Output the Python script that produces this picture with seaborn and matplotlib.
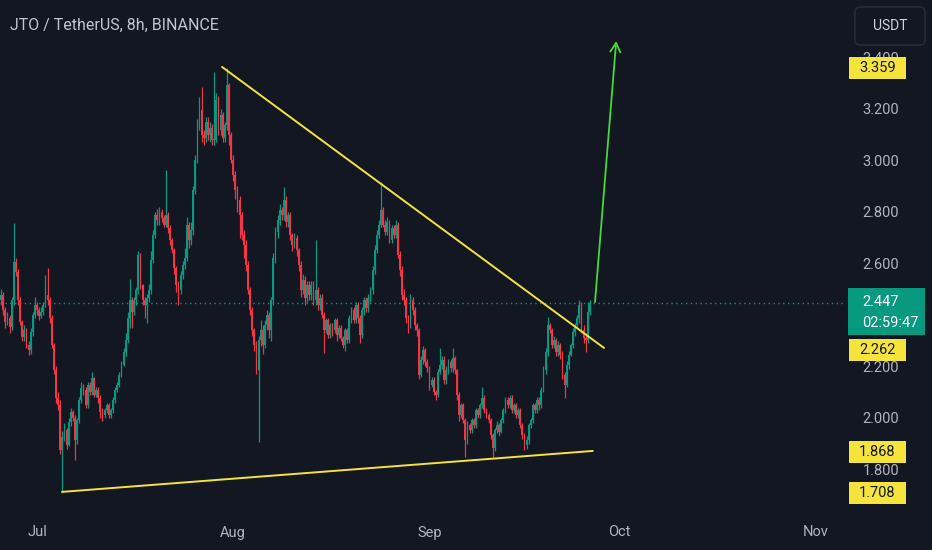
import numpy as np
import pandas as pd
import matplotlib
matplotlib.use("Agg")
import matplotlib.pyplot as plt
import matplotlib.dates as mdates
import matplotlib.transforms as mtransforms
from matplotlib.patches import Rectangle, FancyBboxPatch
import seaborn as sns

# --- Data: JTO/USDT 8h candles ---
START = "2024-06-25 08:00"
OPEN0 = 2.46

closes = [
    2.478, 2.419, 2.373, 2.388, 2.353, 2.458, 2.606, 2.567, 2.458, 2.373,
    2.315, 2.342, 2.283, 2.264, 2.334, 2.400, 2.439, 2.419, 2.396, 2.412,
    2.439, 2.478, 2.458, 2.388, 2.283, 2.186, 2.078, 2.050, 1.876, 1.926,
    1.953, 1.895, 1.984, 2.023, 2.000, 1.915, 1.992, 2.070, 2.117, 2.109,
    2.050, 2.128, 2.101, 2.155, 2.089, 2.109, 2.078, 2.023, 2.012, 2.031,
    2.050, 2.012, 2.031, 2.070, 2.109, 2.128, 2.167, 2.206, 2.256, 2.303,
    2.388, 2.458, 2.412, 2.458, 2.497, 2.633, 2.517, 2.458, 2.439, 2.466,
    2.497, 2.614, 2.711, 2.788, 2.769, 2.800, 2.777, 2.750, 2.788, 2.738,
    2.691, 2.652, 2.583, 2.517, 2.497, 2.555, 2.594, 2.621, 2.750, 2.691,
    2.730, 2.885, 3.002, 3.138, 3.196, 3.099, 3.087, 3.150, 3.099, 3.126,
    3.080, 3.080, 3.235, 3.118, 3.176, 3.087, 3.138, 3.293, 3.099, 3.002,
    2.944, 2.885, 2.847, 2.788, 2.711, 2.672, 2.594, 2.497, 2.419, 2.342,
    2.283, 2.186, 2.303, 2.342, 2.283, 2.361, 2.400, 2.342, 2.458, 2.621,
    2.722, 2.769, 2.808, 2.788, 2.847, 2.761, 2.788, 2.711, 2.672, 2.699,
    2.652, 2.594, 2.497, 2.536, 2.466, 2.517, 2.478, 2.517, 2.458, 2.497,
    2.439, 2.466, 2.400, 2.342, 2.381, 2.322, 2.361, 2.342, 2.381, 2.322,
    2.350, 2.311, 2.283, 2.342, 2.303, 2.388, 2.419, 2.381, 2.439, 2.388,
    2.322, 2.419, 2.458, 2.427, 2.466, 2.497, 2.575, 2.652, 2.711, 2.750,
    2.808, 2.750, 2.722, 2.761, 2.691, 2.738, 2.711, 2.750, 2.633, 2.575,
    2.478, 2.458, 2.388, 2.361, 2.458, 2.419, 2.361, 2.342, 2.167, 2.225,
    2.264, 2.217, 2.194, 2.128, 2.147, 2.101, 2.089, 2.179, 2.206, 2.225,
    2.147, 2.186, 2.217, 2.194, 2.233, 2.186, 2.089, 2.012, 2.050, 1.992,
    1.915, 1.973, 1.953, 1.992, 1.973, 2.031, 2.012, 2.050, 2.078, 2.031,
    2.012, 1.992, 1.934, 1.883, 1.953, 1.973, 1.946, 1.992, 2.031, 2.070,
    2.050, 2.078, 2.031, 2.050, 2.012, 2.031, 1.973, 1.934, 1.895, 1.915,
    1.973, 1.992, 2.050, 2.031, 2.070, 2.050, 2.109, 2.186, 2.256, 2.361,
    2.342, 2.283, 2.303, 2.256, 2.283, 2.245, 2.167, 2.128, 2.206, 2.245,
    2.283, 2.334, 2.361, 2.388, 2.439, 2.342, 2.311, 2.303, 2.412, 2.447,
]

highs = [
    2.50, 2.49, 2.43, 2.41, 2.40, 2.47, 2.757, 2.62, 2.58, 2.47,
    2.38, 2.36, 2.35, 2.30, 2.35, 2.41, 2.47, 2.45, 2.43, 2.43,
    2.45, 2.555, 2.583, 2.47, 2.40, 2.29, 2.20, 2.10, 2.07, 1.95,
    1.98, 1.96, 2.00, 2.04, 2.03, 2.01, 2.00, 2.08, 2.14, 2.13,
    2.12, 2.14, 2.14, 2.18, 2.16, 2.12, 2.12, 2.09, 2.04, 2.04,
    2.06, 2.06, 2.04, 2.08, 2.12, 2.14, 2.18, 2.22, 2.27, 2.33,
    2.41, 2.54, 2.47, 2.47, 2.51, 2.65, 2.64, 2.52, 2.47, 2.48,
    2.52, 2.65, 2.73, 2.80, 2.81, 2.82, 2.81, 2.79, 2.963, 2.80,
    2.75, 2.70, 2.66, 2.59, 2.53, 2.57, 2.61, 2.66, 2.78, 2.76,
    2.76, 2.90, 3.02, 3.16, 3.247, 3.285, 3.12, 3.17, 3.17, 3.15,
    3.14, 3.344, 3.26, 3.25, 3.20, 3.19, 3.15, 3.359, 3.30, 3.11,
    3.02, 2.96, 2.90, 2.86, 2.80, 2.73, 2.69, 2.61, 2.51, 2.43,
    2.35, 2.30, 2.32, 2.38, 2.36, 2.38, 2.42, 2.41, 2.47, 2.64,
    2.74, 2.79, 2.83, 2.82, 2.897, 2.86, 2.80, 2.80, 2.72, 2.72,
    2.71, 2.66, 2.61, 2.56, 2.55, 2.53, 2.53, 2.53, 2.53, 2.691,
    2.51, 2.48, 2.48, 2.41, 2.39, 2.39, 2.37, 2.37, 2.39, 2.39,
    2.36, 2.36, 2.32, 2.35, 2.35, 2.40, 2.43, 2.43, 2.45, 2.45,
    2.40, 2.43, 2.47, 2.47, 2.48, 2.51, 2.59, 2.67, 2.73, 2.77,
    2.917, 2.82, 2.77, 2.78, 2.77, 2.75, 2.75, 2.77, 2.76, 2.65,
    2.59, 2.50, 2.47, 2.40, 2.48, 2.47, 2.43, 2.37, 2.35, 2.24,
    2.28, 2.27, 2.23, 2.20, 2.16, 2.16, 2.11, 2.19, 2.272, 2.24,
    2.24, 2.20, 2.23, 2.23, 2.272, 2.24, 2.19, 2.10, 2.06, 2.06,
    2.00, 1.99, 1.98, 2.00, 2.00, 2.04, 2.04, 2.06, 2.12, 2.09,
    2.04, 2.02, 2.00, 1.94, 1.96, 1.99, 1.98, 2.00, 2.04, 2.08,
    2.08, 2.09, 2.09, 2.06, 2.06, 2.04, 2.04, 1.98, 1.94, 1.93,
    1.98, 2.00, 2.06, 2.06, 2.08, 2.08, 2.12, 2.20, 2.27, 2.392,
    2.37, 2.35, 2.32, 2.31, 2.30, 2.29, 2.26, 2.18, 2.22, 2.26,
    2.29, 2.35, 2.37, 2.40, 2.46, 2.45, 2.36, 2.33, 2.45, 2.46,
]

lows = [
    2.44, 2.40, 2.35, 2.36, 2.33, 2.34, 2.44, 2.55, 2.44, 2.36,
    2.30, 2.30, 2.27, 2.245, 2.25, 2.32, 2.39, 2.40, 2.38, 2.39,
    2.40, 2.43, 2.44, 2.37, 2.27, 2.17, 2.06, 2.03, 1.86, 1.708,
    1.91, 1.88, 1.89, 1.97, 1.99, 1.837, 1.90, 1.98, 2.06, 2.09,
    2.04, 2.04, 2.09, 2.09, 2.08, 2.08, 2.06, 2.00, 1.99, 2.00,
    2.02, 2.00, 2.00, 2.02, 2.06, 2.10, 2.12, 2.16, 2.20, 2.24,
    2.29, 2.35, 2.35, 2.40, 2.44, 2.48, 2.50, 2.44, 2.39, 2.369,
    2.45, 2.48, 2.60, 2.70, 2.75, 2.75, 2.76, 2.74, 2.74, 2.72,
    2.67, 2.64, 2.56, 2.49, 2.439, 2.48, 2.54, 2.58, 2.61, 2.66,
    2.67, 2.71, 2.87, 2.99, 3.12, 3.07, 3.06, 3.07, 3.08, 3.07,
    3.06, 3.06, 3.07, 3.10, 3.10, 3.07, 3.07, 3.12, 3.06, 2.99,
    2.92, 2.85, 2.80, 2.70, 2.69, 2.62, 2.57, 2.48, 2.40, 2.32,
    2.26, 2.17, 1.907, 2.28, 2.25, 2.27, 2.34, 2.31, 2.30, 2.44,
    2.60, 2.70, 2.75, 2.77, 2.77, 2.74, 2.74, 2.69, 2.65, 2.66,
    2.63, 2.57, 2.47, 2.48, 2.44, 2.45, 2.46, 2.46, 2.44, 2.44,
    2.42, 2.42, 2.39, 2.252, 2.33, 2.31, 2.31, 2.32, 2.33, 2.30,
    2.31, 2.30, 2.27, 2.26, 2.29, 2.29, 2.37, 2.37, 2.37, 2.37,
    2.29, 2.31, 2.40, 2.41, 2.41, 2.45, 2.48, 2.56, 2.64, 2.70,
    2.74, 2.74, 2.71, 2.71, 2.68, 2.68, 2.70, 2.70, 2.62, 2.55,
    2.46, 2.44, 2.37, 2.33, 2.35, 2.40, 2.34, 2.32, 2.15, 2.16,
    2.21, 2.20, 2.18, 2.11, 2.12, 2.09, 2.07, 2.08, 2.17, 2.19,
    2.13, 2.13, 2.17, 2.18, 2.18, 2.17, 2.07, 1.99, 2.00, 1.98,
    1.849, 1.90, 1.94, 1.94, 1.96, 1.96, 2.00, 2.00, 2.04, 2.02,
    2.00, 1.98, 1.92, 1.849, 1.87, 1.94, 1.93, 1.94, 1.98, 2.02,
    2.04, 2.04, 2.02, 2.02, 2.00, 2.00, 1.96, 1.92, 1.876, 1.88,
    1.90, 1.96, 1.98, 2.02, 2.02, 2.03, 2.04, 2.10, 2.17, 2.24,
    2.33, 2.27, 2.27, 2.24, 2.24, 2.23, 2.15, 2.078, 2.12, 2.19,
    2.24, 2.27, 2.32, 2.35, 2.37, 2.33, 2.29, 2.256, 2.29, 2.40,
]

# drawings on the chart
trend_top_dates = ["2024-07-30 05:30", "2024-09-28 13:40"]
trend_top_prices = [3.363, 2.272]
trend_bottom_dates = ["2024-07-04 22:50", "2024-09-26 19:10"]
trend_bottom_prices = [1.713, 1.872]
arrow_dates = ["2024-09-27 03:30", "2024-09-30 12:00"]
arrow_prices = [2.450, 3.464]

LAST_PRICE = 2.447
COUNTDOWN = "02:59:47"
tag_prices = [3.359, 2.262, 1.868, 1.708]
# 2.400 sits fully under the last-price tag, so it is left out
price_ticks = [1.8, 2.0, 2.2, 2.6, 2.8, 3.0, 3.2, 3.4]
month_ticks = ["2024-07-01", "2024-08-01", "2024-09-01", "2024-10-01", "2024-11-01"]
month_labels = ["Jul", "Aug", "Sep", "Oct", "Nov"]

# --- Style ---
BG = "#131722"
TXT = "#B2B5BE"
UP = "#089981"
DOWN = "#F23645"
YELLOW = "#F5E43C"
ARROW_GREEN = "#3FDB3A"

sns.set_theme(style="dark", rc={
    "axes.facecolor": BG,
    "figure.facecolor": BG,
    "savefig.facecolor": BG,
    "axes.grid": False,
})
plt.rcParams["font.family"] = ["Roboto", "DejaVu Sans"]

W, H, DPI = 932, 550, 100
AX_W, AX_H = 846, 513
fig = plt.figure(figsize=(W / DPI, H / DPI), dpi=DPI)
ax = fig.add_axes([0, (H - AX_H) / H, AX_W / W, AX_H / H])

# --- Candles ---
df = pd.DataFrame({"close": closes, "high": highs, "low": lows})
df["open"] = [OPEN0] + closes[:-1]
df["time"] = pd.date_range(START, periods=len(df), freq="8h")
df["x"] = mdates.date2num(df["time"])
up = df["close"] >= df["open"]
colors = np.where(up, UP, DOWN)

body = df["close"] - df["open"]
body = np.where(np.abs(body) < 0.004, 0.004, body)
ax.vlines(df["x"], df["low"], df["high"], colors=colors, lw=0.9, zorder=2)
ax.bar(df["x"], body, bottom=df["open"], width=0.28, color=colors, lw=0, zorder=3)

# last price dotted line
ax.axhline(LAST_PRICE, color=UP, lw=1.0, ls=(0, (1, 2.5)), zorder=1)

# trend lines
for dts, prices in [(trend_top_dates, trend_top_prices),
                    (trend_bottom_dates, trend_bottom_prices)]:
    sns.lineplot(x=mdates.date2num(pd.to_datetime(dts)), y=prices, ax=ax,
                 color=YELLOW, lw=1.4, zorder=4, legend=False)

# target arrow
arr_x = mdates.date2num(pd.to_datetime(arrow_dates))
ax.annotate("", xy=(arr_x[1], arrow_prices[1]), xytext=(arr_x[0], arrow_prices[0]),
            arrowprops=dict(arrowstyle="->,head_length=0.55,head_width=0.3",
                            color=ARROW_GREEN, lw=1.3, shrinkA=0, shrinkB=0),
            zorder=5)

# --- Axes ---
jul1 = mdates.date2num(pd.Timestamp("2024-07-01"))
ax.set_xlim(jul1 - 5.85, jul1 + 127.8)
ymin, ymax = 1.631, 3.623
ax.set_ylim(ymin, ymax)

ax.set_xticks(mdates.date2num(pd.to_datetime(month_ticks)))
ax.set_xticklabels(month_labels)
ax.yaxis.tick_right()
ax.set_yticks(price_ticks)
ax.set_yticklabels([f"{p:.3f}" for p in price_ticks])
ax.tick_params(axis="x", length=0, pad=9, labelsize=10.5, labelcolor=TXT)
ax.tick_params(axis="y", length=0, pad=12, labelsize=10.5, labelcolor=TXT)
for s in ax.spines.values():
    s.set_visible(False)

# --- Price tags on the scale ---
px = (ymax - ymin) / AX_H
trans = mtransforms.blended_transform_factory(ax.transAxes, ax.transData)

for p in tag_prices:
    ax.add_patch(Rectangle((849 / AX_W, p - 11 * px), 57 / AX_W, 22 * px,
                           transform=trans, clip_on=False, fc=YELLOW, ec="none", zorder=10))
    ax.text(877.5 / AX_W, p, f"{p:.3f}", transform=trans, ha="center", va="center",
            fontsize=10.5, color="#131722", clip_on=False, zorder=11)

ax.add_patch(FancyBboxPatch((848 / AX_W, LAST_PRICE - 32 * px), 77 / AX_W, 47 * px,
                            boxstyle="square,pad=0", transform=trans, clip_on=False,
                            fc=UP, ec="none", zorder=12))
ax.text(862 / AX_W, LAST_PRICE + 1 * px, f"{LAST_PRICE:.3f}", transform=trans,
        ha="left", va="center", fontsize=10.5, color="white", clip_on=False, zorder=13)
ax.text(862 / AX_W, LAST_PRICE - 20 * px, COUNTDOWN, transform=trans,
        ha="left", va="center", fontsize=10.5, color="white", clip_on=False, zorder=13)

# currency box
fig.add_artist(FancyBboxPatch((855, H - 45), 70, 38,
                              boxstyle="round,pad=0,rounding_size=5",
                              transform=None, fc=BG, ec="#2A2E39", lw=1))
fig.text(890 / W, 1 - 26 / H, "USDT", ha="center", va="center",
         fontsize=10, color="#D1D4DC")

# title
fig.text(10 / W, 1 - 25 / H, "JTO / TetherUS, 8h, BINANCE", ha="left", va="center",
         fontsize=11.5, color="#C3C6CE")

fig.savefig("out.png", dpi=DPI)
